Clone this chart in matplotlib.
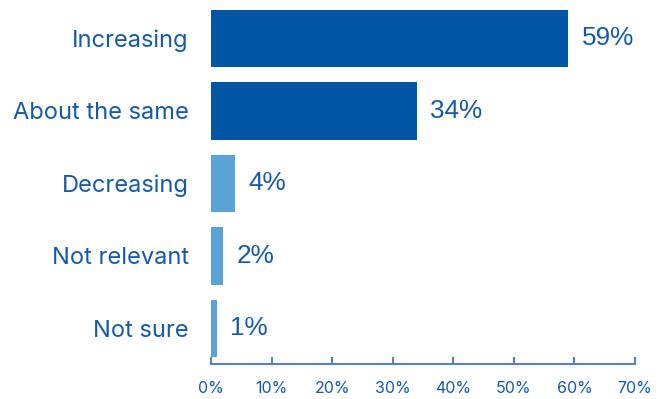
import matplotlib.pyplot as plt
from matplotlib.ticker import PercentFormatter

# Survey responses
categories = ["Increasing", "About the same", "Decreasing", "Not relevant", "Not sure"]
values = [59, 34, 4, 2, 1]
bar_colors = ["#0055a4", "#0055a4", "#5ba3d6", "#5ba3d6", "#5ba3d6"]

text_color = "#1558a8"
axis_color = "#5a7fc0"

plt.rcParams['font.family'] = ['Inter', 'DejaVu Sans']

fig = plt.figure(figsize=(6.69, 3.99), dpi=100)
ax = fig.add_axes([211 / 669, 1 - 364 / 399, 424 / 669, 364 / 399])

y = range(len(categories))
ax.barh(y, values, height=0.79, color=bar_colors)

for i, v in enumerate(values):
    ax.text(v + 2.2, i, f"{v}%", va="center", ha="left",
            fontsize=18.8, color=text_color, family=['Liberation Sans'])

ax.set_ylim(4.49, -0.53)
ax.set_xlim(0, 70)
ax.set_xticks(range(0, 71, 10))
ax.xaxis.set_major_formatter(PercentFormatter(decimals=0))

ax.set_yticks(list(y))
ax.set_yticklabels(categories, fontsize=17, color=text_color)
ax.tick_params(axis="y", length=0, pad=16)
ax.tick_params(axis="x", direction="in", length=5, width=1.5,
               color=axis_color, labelcolor=text_color, labelsize=11.5, pad=12)

for side in ["top", "right", "left"]:
    ax.spines[side].set_visible(False)
ax.spines["bottom"].set_color(axis_color)
ax.spines["bottom"].set_linewidth(1.5)

fig.savefig("out.png", dpi=100)
